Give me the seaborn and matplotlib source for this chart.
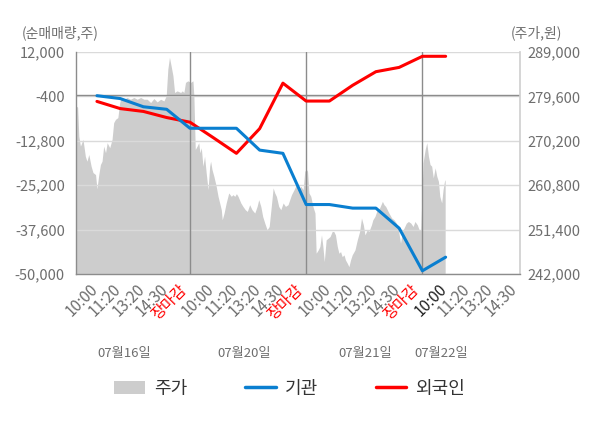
import matplotlib
matplotlib.use("Agg")
import matplotlib.pyplot as plt
import seaborn as sns
from matplotlib.patches import Patch
from matplotlib.lines import Line2D
from matplotlib.ticker import FuncFormatter

# === Data ===
# x runs in "slots": each trading day is 5 slots wide, day boundary (장마감) at 5, 10, 15
line_pos = list(range(1, 17))
inst_values = [-200, -1000, -3300, -4000, -9300, -9300, -9300, -15400, -16300,
               -30600, -30600, -31600, -31600, -37200, -49100, -45300]
foreign_values = [-1800, -3800, -4600, -6300, -7600, -11900, -16300, -9400, 3300,
                  -1700, -1700, 2700, 6500, 7700, 10800, 10800]

price_pos = [
    0.10, 0.17, 0.22, 0.29, 0.40, 0.50, 0.57, 0.65, 0.75, 0.83, 0.94, 1.00, 1.08, 1.15,
    1.22, 1.29, 1.37, 1.44, 1.55, 1.65, 1.72, 1.80, 1.90, 1.98, 2.04, 2.16, 2.30, 2.44,
    2.59, 2.73, 2.88, 3.02, 3.16, 3.31, 3.45, 3.59, 3.74, 3.88, 3.98, 4.05, 4.12, 4.19,
    4.27, 4.34, 4.45, 4.60, 4.67, 4.74, 4.81, 4.91, 5.03, 5.13,
    5.17, 5.23, 5.31, 5.38, 5.43, 5.49, 5.56, 5.63, 5.70, 5.78, 5.85, 5.89, 5.95, 6.03,
    6.13, 6.21, 6.28, 6.35, 6.39, 6.47, 6.56, 6.67, 6.78, 6.85, 6.93, 7.00, 7.07, 7.19,
    7.28, 7.38, 7.47, 7.57, 7.67, 7.79, 7.89, 7.96, 8.05, 8.13, 8.22, 8.32, 8.41, 8.50,
    8.58, 8.65, 8.72, 8.82, 8.91, 9.01, 9.11, 9.22, 9.37, 9.48, 9.58, 9.66, 9.77, 9.87,
    9.94, 10.01,
    10.06, 10.12, 10.20, 10.29, 10.38, 10.43, 10.52, 10.59, 10.66, 10.72, 10.78, 10.86,
    10.95, 11.03, 11.12, 11.19, 11.26, 11.34, 11.41, 11.48, 11.55, 11.63, 11.69, 11.77,
    11.84, 11.91, 11.98, 12.10, 12.20, 12.30, 12.38, 12.46, 12.53, 12.63, 12.70, 12.81,
    12.87, 12.96, 13.06, 13.16, 13.28, 13.35, 13.42, 13.56, 13.68, 13.78, 13.88, 13.97,
    14.06, 14.14, 14.21, 14.31, 14.40, 14.50, 14.60, 14.68, 14.78, 14.86, 14.93,
    15.03, 15.12, 15.19, 15.26, 15.33, 15.40, 15.47, 15.55, 15.62, 15.69, 15.75, 15.83,
    15.89, 15.95, 15.98,
]
price_values = [
    277580, 277300, 271200, 269070, 270500, 266950, 265880, 267310, 264820, 263480,
    263050, 260010, 263050, 265180, 265880, 269070, 267670, 269800, 268730, 270500,
    274050, 274750, 275110, 278300, 279370, 279000, 279370, 279000, 279370, 279000,
    279370, 279000, 279000, 278300, 279150, 278430, 279000, 278640, 279710, 285380,
    287870, 286090, 283960, 280430, 280770, 280430, 280770, 280430, 282560, 282900,
    282560, 282900,
    279710, 268370, 269070, 269800, 267670, 268730, 264820, 266950, 263420, 259860,
    264820, 265880, 264120, 262690, 260570, 258440, 257040, 255610, 253480, 254910,
    257040, 259160, 258440, 258800, 258440, 259010, 258440, 257040, 256310, 255610,
    255250, 256670, 255610, 254910, 256310, 257740, 256310, 254190, 252780, 251360,
    252060, 256310, 260230, 259160, 258440, 256310, 255610, 257040, 256310, 256670,
    258800, 259860, 260930, 259860, 260570, 259860, 263760, 264120,
    263760, 259160, 258440, 256310, 254910, 246400, 247100, 247810, 250290, 247810,
    244620, 249230, 249590, 249930, 251000, 251000, 250290, 247810, 246400, 246740,
    245680, 246040, 244980, 244280, 243550, 244980, 246040, 247100, 249230, 251000,
    253850, 252420, 250290, 251360, 251000, 252420, 253480, 254190, 255610, 255970,
    257380, 256670, 256310, 254910, 253850, 253480, 252780, 251360, 248530, 251000,
    251720, 252780, 253120, 252780, 252060, 253120, 252420, 251360, 251360,
    265540, 268370, 269800, 266950, 265180, 264820, 262350, 264480, 262690, 261630,
    258440, 257040, 259860, 261630, 261990,
]

left_ticks = [-50000, -37600, -25200, -12800, -400, 12000]
right_ticks = [242000, 251400, 260800, 270200, 279600, 289000]
time_labels = ["10:00", "11:20", "13:20", "14:30"]
close_label = "장마감"
date_labels = ["07월16일", "07월20일", "07월21일", "07월22일"]
date_pos = [2.19, 7.34, 12.56, 15.80]
legend_labels = ["주가", "기관", "외국인"]

# === Style ===
sns.set_theme(style="white")
plt.rcParams["font.family"] = ["Noto Sans CJK KR", "DejaVu Sans"]

GRAY_TXT = "#6e6e6e"
AXIS_GRAY = "#8c8c8c"
AREA = "#cdcdcd"
BLUE = "#0a7fd0"
RED = "#ff0000"

fig = plt.figure(figsize=(6, 4.28), dpi=100)
ax = fig.add_axes([0.1267, 0.3598, 0.74, 0.5187])
ax2 = ax.twinx()
ax.set_zorder(2)
ax.patch.set_visible(False)
ax2.set_facecolor("#f4f4f4")

# price area on the right axis (behind)
ax2.fill_between(price_pos, price_values, 242000, color=AREA, lw=0)
ax2.set_ylim(242000, 289000)
ax2.set_yticks(right_ticks)
ax2.yaxis.set_major_formatter(FuncFormatter(lambda v, p: f"{v:,.0f}"))
ax2.tick_params(axis="y", length=0, pad=5.5, labelsize=10.5, labelcolor=GRAY_TXT)
for s in ax2.spines.values():
    s.set_visible(False)

# net buying lines on the left axis
ax.grid(axis="y", color="#dadada", lw=1)
ax.axhline(0, color=AXIS_GRAY, lw=1, zorder=1)
for b in [5, 10, 15]:
    ax.axvline(b, color=AXIS_GRAY, lw=1, zorder=1)

sns.lineplot(x=line_pos, y=foreign_values, ax=ax, color=RED, lw=2.2, zorder=3)
sns.lineplot(x=line_pos, y=inst_values, ax=ax, color=BLUE, lw=2.2, zorder=4)

ax.set_xlim(0.1, 19.2)
ax.set_ylim(-50000, 12000)
ax.set_yticks(left_ticks)
ax.yaxis.set_major_formatter(FuncFormatter(lambda v, p: f"{v:,.0f}"))
ax.tick_params(axis="y", length=0, pad=8, labelsize=10.5, labelcolor=GRAY_TXT)

# x tick labels: times inside each day, 장마감 on the day boundary
tick_pos, tick_txt = [], []
for d in range(4):
    for k, t in enumerate(time_labels):
        tick_pos.append(5 * d + 1.2 + k)
        tick_txt.append(t)
    if d < 3:
        tick_pos.append(5 * d + 5)
        tick_txt.append(close_label)
ax.set_xticks(tick_pos)
ax.set_xticklabels(tick_txt, rotation=45, ha="right")
ax.tick_params(axis="x", which="major", length=0, pad=5, labelsize=11)
for lbl, pos in zip(ax.get_xticklabels(), tick_pos):
    if lbl.get_text() == close_label:
        lbl.set_color(RED)
    elif abs(pos - 16.2) < 1e-6:
        lbl.set_color("#222222")
    else:
        lbl.set_color(GRAY_TXT)
ax.set_xticks([0.1, 5, 10, 15, 19.2], minor=True)
ax.tick_params(axis="x", which="minor", length=4, width=1, color=AXIS_GRAY)
ax.set_xlabel("")
ax.set_ylabel("")

for side in ["left", "bottom"]:
    ax.spines[side].set_color(AXIS_GRAY)
    ax.spines[side].set_linewidth(1)
ax.spines["right"].set_color("#d0d0d0")
ax.spines["top"].set_visible(False)

# date labels under the time ticks
for pos, txt in zip(date_pos, date_labels):
    ax.text(pos, -0.356, txt, transform=ax.get_xaxis_transform(), ha="center",
            va="center", fontsize=9.5, color=GRAY_TXT)

# axis titles
fig.text(22 / 600, 1 - 33 / 428, "(순매매량,주)", ha="left", va="center",
         fontsize=10, color=GRAY_TXT)
fig.text(562 / 600, 1 - 33 / 428, "(주가,원)", ha="right", va="center",
         fontsize=10, color=GRAY_TXT)

# legend
handles = [Patch(facecolor=AREA, edgecolor="none"),
           Line2D([0], [0], color=BLUE, lw=2.5),
           Line2D([0], [0], color=RED, lw=2.5)]
leg = fig.legend(handles, legend_labels, loc="center", bbox_to_anchor=(0.483, 0.092),
                 ncol=3, frameon=False, fontsize=13, handlelength=1.7,
                 handleheight=0.7, columnspacing=3.2, handletextpad=0.5)
for t in leg.get_texts():
    t.set_color("#333333")

fig.savefig("out.png", dpi=100)
